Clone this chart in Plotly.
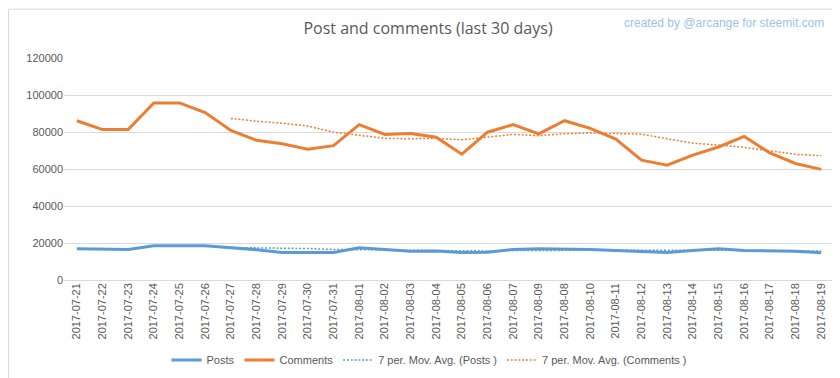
import plotly.graph_objects as go
import pandas as pd

dates = ["2017-07-21", "2017-07-22", "2017-07-23", "2017-07-24", "2017-07-25", "2017-07-26",
         "2017-07-27", "2017-07-28", "2017-07-29", "2017-07-30", "2017-07-31", "2017-08-01",
         "2017-08-02", "2017-08-03", "2017-08-04", "2017-08-05", "2017-08-06", "2017-08-07",
         "2017-08-09", "2017-08-08", "2017-08-10", "2017-08-11", "2017-08-12", "2017-08-13",
         "2017-08-14", "2017-08-15", "2017-08-16", "2017-08-17", "2017-08-18", "2017-08-19"]

posts = [16900, 16500, 16500, 18500, 18500, 18500, 17400, 16400, 14900, 14900,
         14900, 17400, 16400, 15600, 15700, 14900, 15000, 16500, 16900, 16900,
         16500, 16000, 15400, 14900, 16000, 16900, 16000, 15600, 15600, 14700]

comments = [86100, 81300, 81300, 95700, 95700, 90500, 80800, 75500, 73700, 70700,
            72600, 84000, 78700, 79200, 77200, 68000, 79900, 84000, 79000, 86100,
            82000, 76200, 64800, 62100, 67500, 71900, 77600, 68700, 63000, 59800]

y_ticks = [0, 20000, 40000, 60000, 80000, 100000, 120000]

# 7-period moving average trendlines (as drawn by the spreadsheet)
posts_ma = pd.Series(posts).rolling(7).mean().tolist()
comments_ma = pd.Series(comments).rolling(7).mean().tolist()

BLUE = "#5B9BD5"
ORANGE = "#ED7D31"
GRAY = "#595959"
GRID = "#D9D9D9"
FONT = "Liberation Sans Narrow, Liberation Sans, Arial, sans-serif"

fig = go.Figure()
fig.add_trace(go.Scatter(x=dates, y=posts, mode="lines", name="Posts",
                         line=dict(color=BLUE, width=3)))
fig.add_trace(go.Scatter(x=dates, y=comments, mode="lines", name="Comments",
                         line=dict(color=ORANGE, width=3)))
fig.add_trace(go.Scatter(x=dates, y=posts_ma, mode="lines", name="7 per. Mov. Avg. (Posts )",
                         line=dict(color=BLUE, width=1.5, dash="2px,1.8px")))
fig.add_trace(go.Scatter(x=dates, y=comments_ma, mode="lines", name="7 per. Mov. Avg. (Comments )",
                         line=dict(color=ORANGE, width=1.5, dash="2px,1.8px")))

L, R, T, B = 56, 14, 50, 103
PW, PH = 840 - L - R, 378 - T - B

fig.update_layout(
    width=840, height=378,
    margin=dict(l=L, r=R, t=T, b=B),
    paper_bgcolor="white", plot_bgcolor="white",
    font=dict(family=FONT, size=11, color=GRAY),
    title=dict(text="Post and comments (last 30 days)", x=0.5, xanchor="center",
               y=1 - 20 / 378, yanchor="middle",
               font=dict(family="Open Sans, sans-serif", size=16, color=GRAY)),
    showlegend=True,
    legend=dict(orientation="h", x=(421 - L) / PW, xanchor="center",
                y=(PH - (356 - T)) / PH, yanchor="middle",
                font=dict(size=11, color=GRAY), bgcolor="rgba(0,0,0,0)",
                tracegroupgap=0),
    xaxis=dict(type="category", categoryorder="array", categoryarray=dates,
               range=[-0.5, len(dates) - 0.5], tickangle=-90, showgrid=False,
               showline=False, ticks="", zeroline=False,
               tickfont=dict(size=11, color=GRAY)),
    yaxis=dict(range=[0, 120000], tickvals=y_ticks, ticktext=[str(v) for v in y_ticks],
               showgrid=True, gridcolor=GRID, gridwidth=1, zeroline=True,
               zerolinecolor=GRID, zerolinewidth=1, showline=False, ticks="",
               tickfont=dict(size=11, color=GRAY)),
    annotations=[dict(text="created by @arcange for steemit.com", xref="paper", yref="paper",
                      x=(818 - L) / PW, xanchor="right", y=(PH + T - 15) / PH, yanchor="middle",
                      showarrow=False, font=dict(size=12, color="#9DC3E6"))],
    shapes=[dict(type="rect", xref="paper", yref="paper",
                 x0=(-L + 0.5) / PW, x1=(PW + R - 0.5) / PW,
                 y0=(-B + 0.5) / PH, y1=(PH + T - 0.5) / PH,
                 line=dict(color=GRID, width=1), fillcolor="rgba(0,0,0,0)", layer="below")],
)

fig.write_html("out.html")
